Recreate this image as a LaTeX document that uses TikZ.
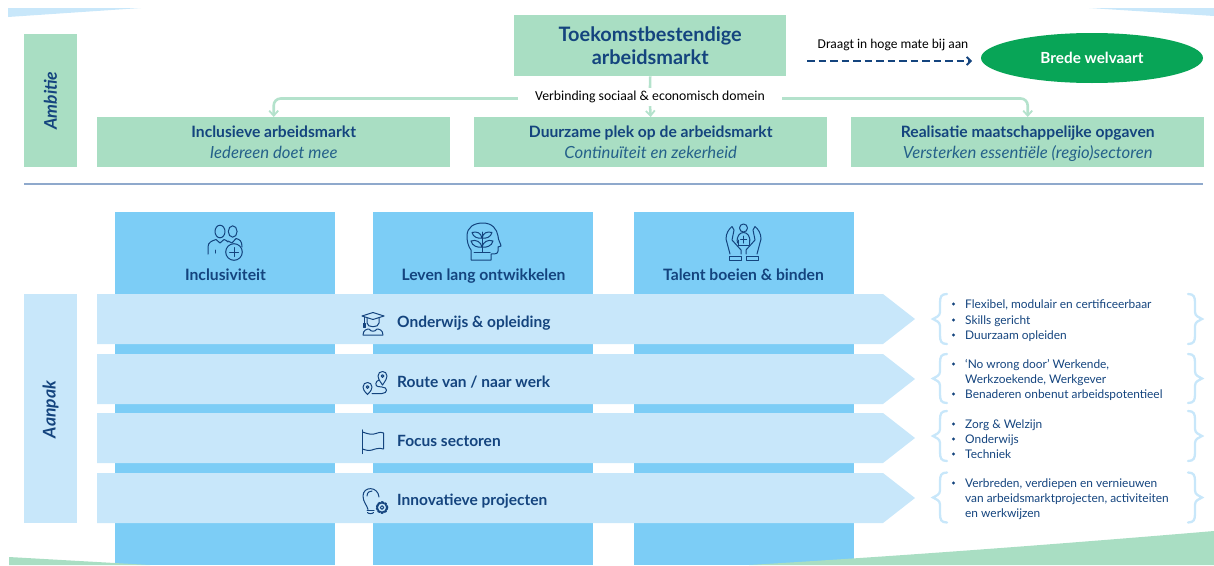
\documentclass[tikz,border=0pt]{standalone}
\usepackage{fontspec}
\setmainfont{Lato}
\newfontfamily\carl{Carlito}
\usetikzlibrary{arrows.meta,shapes.geometric}
\definecolor{mint}{HTML}{A9DEC3}
\definecolor{mintline}{HTML}{B4E2CC}
\definecolor{sky}{HTML}{7CCDF6}
\definecolor{pale}{HTML}{C8E7FA}
\definecolor{navy}{HTML}{14447E}
\definecolor{subnavy}{HTML}{25618A}
\definecolor{rulec}{HTML}{8FA9CC}
\definecolor{grn}{HTML}{08A557}
\newcommand{\px}[1]{\fontsize{#1}{#1}\selectfont}
\newcommand{\twol}[2]{{\px{15.65}\bfseries\vphantom{(Ág}#1}\\[2pt]{\px{16.7}\itshape\color{subnavy}\vphantom{(Ág}#2}}
\tikzset{
 x=1pt,y=-1pt,
 mintbox/.style={fill=mint,inner sep=0pt,anchor=north west,align=center,text=navy},
 columnbox/.style={fill=sky,inner sep=0pt,anchor=north west},
 sidebox/.style={inner sep=0pt,anchor=north west,align=center,text=navy},
 sidelabel/.style={rotate=90,text=navy,font=\px{17.5}\itshape\bfseries},
 rowtitle/.style={anchor=base west,text=navy,font=\px{15.5}\bfseries,inner sep=0pt},
 coltitle/.style={anchor=base,text=navy,font=\px{15.7}\bfseries,inner sep=0pt},
 bul/.style={anchor=base west,text=navy,font=\px{11.9},inner sep=0pt},
 dotb/.style={fill=navy,circle,inner sep=0pt,minimum size=3.4pt},
 icon/.style={draw=navy,line width=1pt,line cap=round,line join=round},
 link/.style={draw=mintline,line width=2.6pt,rounded corners=7pt},
 linktip/.style={-{Straight Barb[length=5pt,width=9pt,line width=1.8pt]}},
 bracel/.style={draw=pale,line width=2.3pt,line cap=round},
}
\newcommand{\lbrc}[2]{\draw[bracel] (947,#1) .. controls (941,#1) and (940,{#1+3}) .. (940,{#1+9}) -- (940,{#2-7}) .. controls (940,{#2-3}) and (936,{#2-1.5}) .. (933,#2) .. controls (936,{#2+1.5}) and (940,{#2+3}) .. (940,{#2+7}) -- (940,{2*#2-#1-9}) .. controls (940,{2*#2-#1-3}) and (941,{2*#2-#1}) .. (947,{2*#2-#1});}
\newcommand{\rbrc}[2]{\draw[bracel] (1188,#1) .. controls (1194,#1) and (1195,{#1+3}) .. (1195,{#1+9}) -- (1195,{#2-7}) .. controls (1195,{#2-3}) and (1199,{#2-1.5}) .. (1202,#2) .. controls (1199,{#2+1.5}) and (1195,{#2+3}) .. (1195,{#2+7}) -- (1195,{2*#2-#1-9}) .. controls (1195,{2*#2-#1-3}) and (1194,{2*#2-#1}) .. (1188,{2*#2-#1});}
\begin{document}
\begin{tikzpicture}
\useasboundingbox (0,0) rectangle (1214,565);
% corners
\fill[pale] (8,8) -- (141,8) -- (8,17) -- cycle;
\fill[pale] (1089,8) -- (1214,8) -- (1214,16) -- cycle;
% columns
\foreach \n/\xx in {a/115,b/373,c/634}
  \node[columnbox,minimum width=220pt,minimum height=353pt] (col\n) at (\xx,212) {};
\fill[mint] (9,557) -- (150,565) -- (9,565) -- cycle;
\fill[mint] (1214,531) .. controls (1060,544) and (900,556) .. (749,565) -- (1214,565) -- cycle;
% ambition
\node[mintbox,minimum width=53pt,minimum height=133pt] (amb) at (24,34) {};
\node[sidelabel] (ambt) at (50.5,100.5) {Ambitie};
\node[sidebox,fill=pale,minimum width=53pt,minimum height=229pt] (aan) at (24,294) {};
\node[sidelabel] (aant) at (50.5,409.5) {Aanpak};
\node[mintbox,minimum width=272pt,minimum height=61pt,font=\px{19.9}\bfseries] (top) at (514,15) {Toekomstbestendige\\[3pt]arbeidsmarkt};
\node[mintbox,minimum width=353pt,minimum height=50pt] (inc) at (97,117) {\twol{Inclusieve arbeidsmarkt}{Iedereen doet mee}};
\node[mintbox,minimum width=353pt,minimum height=50pt] (duu) at (474,117) {\twol{Duurzame plek op de arbeidsmarkt}{Continuïteit en zekerheid}};
\node[mintbox,minimum width=353pt,minimum height=50pt] (rea) at (851,117) {\twol{Realisatie maatschappelijke opgaven}{Versterken essentiële (regio)sectoren}};
% links
\node[inner sep=0pt,minimum width=264pt,minimum height=18pt,font=\carl\px{13.75},text=black] (ver) at (650,97) {Verbinding sociaal \& economisch domein};
\draw[link] (top.south) -- (ver.north);
\draw[link,linktip,rounded corners=0pt] (ver.south) -- (duu.north);
\path (ver.west) ++(0,1.5) coordinate (vw);
\path (ver.east) ++(0,1.5) coordinate (ve);
\draw[link,linktip] (vw) -- (vw -| inc.north) -- (inc.north);
\draw[link,linktip] (ve) -- (ve -| rea.north) -- (rea.north);
% welvaart
\node[fill=grn,ellipse,inner sep=0pt,minimum width=222pt,minimum height=50pt,text=white,font=\px{15.3}\bfseries] (bw) at (1092,58) {Brede welvaart};
\node[inner sep=0pt,font=\carl\px{13.5},text=black] (dr) at (893,45) {Draagt in hoge mate bij aan};
\coordinate (ds) at (807,61);
\coordinate (de) at (972,61);
\draw[navy,line width=2pt,dash pattern=on 7.5pt off 4pt,-{Straight Barb[length=4pt,width=8pt,line width=1.8pt]}] (ds) -- (de);
% rule
\coordinate (r1) at (24,184); \coordinate (r2) at (1203,184);
\draw[rulec,line width=1.3pt] (r1) -- (r2);
% column titles
\node[coltitle] (t1) at (225.5,280) {Inclusiviteit};
\node[coltitle] (t2) at (483.5,280) {Leven lang ontwikkelen};
\node[coltitle] (t3) at (743.5,280) {Talent boeien \& binden};
% arrows
\foreach \n/\yy in {1/294,2/354,3/413,4/473}{
 \fill[pale] (97,\yy) -- (883,\yy) -- (915,{\yy+25}) -- (883,{\yy+50}) -- (97,{\yy+50}) -- cycle;
}
\node[rowtitle] (r1t) at (397,327.5) {Onderwijs \& opleiding};
\node[rowtitle] (r2t) at (397,387) {Route van / naar werk};
\node[rowtitle] (r3t) at (397,446) {Focus sectoren};
\node[rowtitle] (r4t) at (397,505.5) {Innovatieve projecten};
% icons: two people with plus
\begin{scope}[icon]
 \draw (220,231.5) ellipse (5pt and 6.3pt);
 \draw (232.7,231.5) ellipse (4.4pt and 5.7pt);
 \draw (208,254) -- (208,247) .. controls (208,242) and (212,241) .. (216,239.5) -- (220,243) -- (224,239.5) .. controls (226,240) and (227,241) .. (228,242);
 \draw (228,241) -- (232,243) -- (236,238.5) .. controls (240,239.5) and (242,241) .. (242,247);
 \draw (215,250) -- (215,253);
 \draw[fill=sky] (234,252) circle (8.3pt);
 \draw (229.5,252) -- (238.5,252) (234,247.5) -- (234,256.5);
\end{scope}
% head with plant
\begin{scope}[icon]
 \draw (471,260) -- (471,250) .. controls (468,246) and (467,241) .. (467,236) .. controls (467,227) and (474,223) .. (483,223) .. controls (492,223) and (497,229) .. (498,236) .. controls (498,240) and (501,244) .. (501,246) -- (498,247) -- (498,251) .. controls (498,254) and (495,254) .. (491,254) -- (491,260) -- cycle;
 \draw (482,252) -- (482,232);
 \draw (482,247) .. controls (478,248) and (472,246) .. (471,241) .. controls (476,239) and (481,242) .. (482,247);
 \draw (482,247) .. controls (486,248) and (492,246) .. (493,241) .. controls (488,239) and (483,242) .. (482,247);
 \draw (482,238) .. controls (478,239) and (473,237) .. (472,232.5) .. controls (477,231) and (481,233) .. (482,238);
 \draw (482,238) .. controls (486,239) and (491,237) .. (492,232.5) .. controls (487,231) and (483,233) .. (482,238);
 \draw (474,252) -- (490,252);
\end{scope}
% hands
\begin{scope}[icon]
 \draw (743.5,228) circle (4pt);
 \draw (737.5,243) .. controls (736,236) and (740,232.5) .. (743.5,232.5) .. controls (747,232.5) and (751,236) .. (749.5,243);
 \draw (738,245) -- (749,245) (738,240) -- (738,245) (749,240) -- (749,245);
 \draw (743.5,236) -- (743.5,243) (740.5,239) -- (746.5,239);
 \draw (730,254) -- (726,239) .. controls (726,233) and (729,229) .. (732,226.5) -- (734,230) -- (732,240) -- (741,250) -- (741,254);
 \draw (757,254) -- (761,239) .. controls (761,233) and (758,229) .. (755,226.5) -- (753,230) -- (755,240) -- (746,250) -- (746,254);
 \draw (729,256) rectangle (741,260);
 \draw (746,256) rectangle (758,260);
\end{scope}
% graduate
\begin{scope}[icon]
 \draw (362,316) -- (373,312.5) -- (384,316) -- (373,319.5) -- cycle;
 \draw (367,318) -- (367,323) .. controls (367,328) and (379,328) .. (379,323) -- (379,318);
 \draw (364,317) -- (364,323);
 \draw[fill=navy] (363,323) rectangle (365,327);
 \draw (363,335) .. controls (363,330) and (367,329) .. (369,329) .. controls (371,332) and (375,332) .. (377,329) .. controls (379,329) and (383,330) .. (383,335) -- cycle;
\end{scope}
% route
\begin{scope}[icon]
 \draw (382.5,385) .. controls (379,380) and (378,378) .. (378,376) .. controls (378,370) and (387,370) .. (387,376) .. controls (387,378) and (386,380) .. (382.5,385) -- cycle;
 \draw (382.5,376) circle (1.4pt);
 \draw (367.5,394.5) .. controls (364,391) and (363,389) .. (363,387) .. controls (363,381) and (372,381) .. (372,387) .. controls (372,389) and (371,391) .. (367.5,394.5) -- cycle;
 \draw (367.5,387) circle (1.4pt);
 \draw (379,380) .. controls (375,381) and (375,386.5) .. (378,386.5) -- (382,387) .. controls (388,387) and (388,393.5) .. (382,393.5) -- (372,393.5);
\end{scope}
% flag
\begin{scope}[icon]
 \draw[line width=1.2pt] (362.5,430) -- (362.5,453.5);
 \draw (362.5,432) .. controls (368,434) and (372,435) .. (376,433.5) .. controls (380,432) and (382,432) .. (383.5,433) -- (383.5,449) .. controls (379,447.5) and (375,449) .. (372,450) .. controls (369,451) and (365,450) .. (362.5,449);
\end{scope}
% bulb gear
\begin{scope}[icon]
 \draw (368,509.5) .. controls (367,505) and (363,502) .. (363,496) .. controls (363,486) and (378,486) .. (379,497);
 \draw (367,496) .. controls (367,492) and (370,491) .. (372,491);
 \draw (367,510) -- (374,510);
 \draw (367.5,512.5) .. controls (368,514) and (373,514) .. (373.5,512.5);
 \draw[line width=1.6pt,dash pattern=on 2pt off 1.55pt] (382,507.5) circle (5.6pt);
 \draw (382,507.5) circle (4.6pt);
 \draw (382,507.5) circle (1.8pt);
\end{scope}
% braces
\lbrc{294}{319}\rbrc{294}{319}
\lbrc{354}{378.5}\rbrc{354}{378.5}
\lbrc{411}{436}\rbrc{411}{436}
\lbrc{472.5}{497.5}\rbrc{472.5}{497.5}
% lists
\foreach \yy/\tx in {304/{Flexibel, modulair en certificeerbaar},320/{Skills gericht},335/{Duurzaam opleiden},364/{‘No wrong door’ Werkende,},394/{Benaderen onbenut arbeidspotentieel},424/{Zorg \& Welzijn},439/{Onderwijs},454/{Techniek},483/{Verbreden, verdiepen en vernieuwen}}{
 \node[dotb] at (953.5,\yy) {};
 \node[bul] at (965,{\yy+4.3}) {\tx};
}
\node[bul] (l1) at (965,383.8) {Werkzoekende, Werkgever};
\node[bul] (l2) at (965,502.8) {van arbeidsmarktprojecten, activiteiten};
\node[bul] (l3) at (965,517.3) {en werkwijzen};
\end{tikzpicture}
\end{document}
